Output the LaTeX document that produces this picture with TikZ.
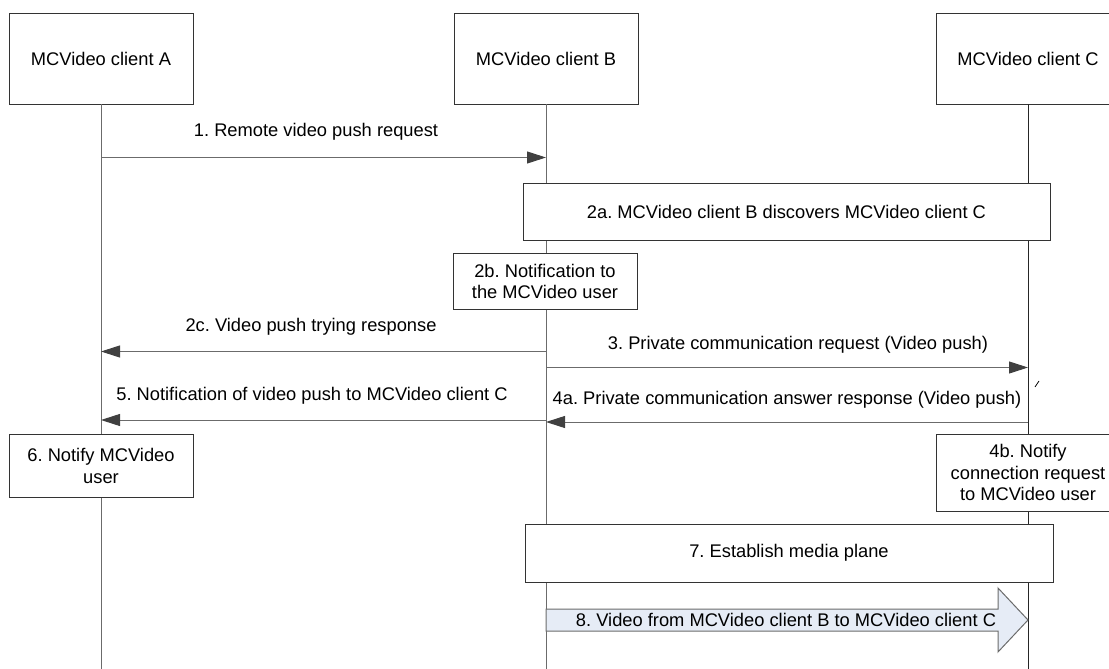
\documentclass[tikz,border=0pt]{standalone}
\usepackage{fontspec}
\setmainfont{Liberation Sans}
\usepackage{tikz}
\usetikzlibrary{arrows.meta,positioning,calc}
\definecolor{LineGray}{HTML}{6B6B6B}
\definecolor{HeadGray}{HTML}{404040}
\definecolor{PushBlue}{HTML}{E6ECF6}
\frenchspacing

\begin{document}
\begin{tikzpicture}[
  x=1pt, y=-1pt,
  every node/.style={font=\fontsize{18.3}{21.5}\selectfont},
  actor/.style={draw=black!80,fill=white,minimum width=184pt,minimum height=91pt,inner sep=0pt},
  box/.style={draw=black!80,fill=white,inner sep=0pt,align=center},
  life/.style={draw=LineGray,line width=1pt},
  msg/.style={draw=LineGray,line width=1pt,-{Triangle[length=19pt,width=12pt,color=HeadGray]}},
  lbl/.style={inner sep=1pt}
]
  \useasboundingbox (0,0) rectangle (1109,669);

  % clients
  \node[actor] (ca) at (101,58.5) {MCVideo client A};
  \node[actor] (cb) at (546,58.5) {MCVideo client B};
  \node[actor] (cc) at (1028,58.5) {MCVideo client C};

  \coordinate (endA) at (101,669);
  \coordinate (endB) at (546,669);
  \coordinate (endC) at (1028,669);
  \draw[life] (ca.south) -- (endA);
  \draw[life] (cb.south) -- (endB);
  \draw[life,draw=black!85] (cc.south) -- (endC);

  % message end points
  \coordinate (a1) at (101,157.5);  \coordinate (b1) at (546,157.5);
  \coordinate (a2) at (101,351.5);  \coordinate (b2) at (546,351.5);
  \coordinate (b3) at (546,367.5);  \coordinate (c3) at (1028,367.5);
  \coordinate (b4) at (546,422);    \coordinate (c4) at (1028,422);
  \coordinate (a5) at (101,420);    \coordinate (b5) at (546,420);

  \draw[msg] (a1) -- (b1);
  \node[lbl] (l1) at (316,132) {1. Remote video push request};

  \node[box,minimum width=527pt,minimum height=57pt] (s2a) at (786.5,212) {2a. MCVideo client B discovers MCVideo client C};
  \node[box,minimum width=184pt,minimum height=56pt] (s2b) at (545,281.5) {2b. Notification to\\the MCVideo user};

  \draw[msg] (b2) -- (a2);
  \node[lbl] (l2c) at (311,327) {2c. Video push trying response};

  \draw[msg] (b3) -- (c3);
  \node[lbl] (l3) at (798,345) {3. Private communication request (Video push)};

  \draw[msg] (c4) -- (b4);
  \node[lbl] (l4a) at (787,400) {4a. Private communication answer response (Video push)};
  \draw[line width=0.8pt] (1035,387) -- (1039,381);

  \node[box,minimum width=184pt,minimum height=77pt] (s4b) at (1028,472.5) {4b. Notify\\connection request\\to MCVideo user};

  \draw[msg] (b5) -- (a5);
  \node[lbl] (l5) at (312,396) {5. Notification of video push to MCVideo client C};

  \node[box,minimum width=184pt,minimum height=63pt] (s6) at (101,466) {6. Notify MCVideo\\user};

  \node[box,minimum width=528pt,minimum height=58pt] (s7) at (789,553) {7. Establish media plane};

  % video flow
  \draw[draw=LineGray,fill=PushBlue,line width=1pt]
    (546,609) -- (998,609) -- (998,588) -- (1028,620) -- (998,652) -- (998,631) -- (546,631) -- cycle;
  \node[lbl] (v8) at (786,620) {8. Video from MCVideo client B to MCVideo client C};
\end{tikzpicture}
\end{document}
